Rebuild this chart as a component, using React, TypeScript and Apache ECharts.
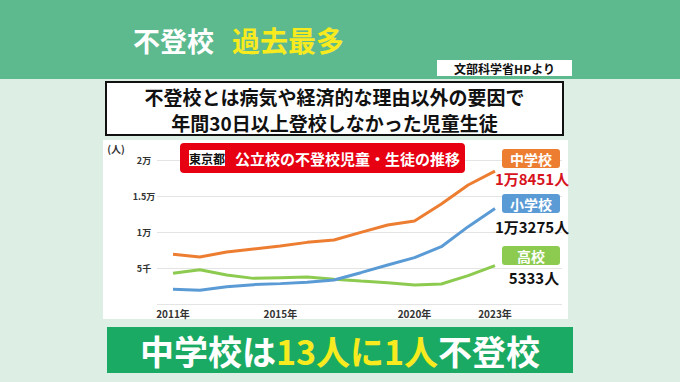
import React, { useEffect, useRef } from "react";
import * as echarts from "echarts";

const years = ["2011年","2012年","2013年","2014年","2015年","2016年","2017年","2018年","2019年","2020年","2021年","2022年","2023年"];
const shownYearIdx = [0, 4, 9, 12];
const juniorHigh = [6900, 6530, 7220, 7640, 8050, 8560, 8890, 9950, 10970, 11530, 13890, 16530, 18451];
const elementary = [2040, 1900, 2410, 2690, 2830, 3010, 3330, 4350, 5420, 6440, 7960, 10740, 13275];
const highSchool = [4260, 4770, 4030, 3560, 3660, 3750, 3430, 3190, 2960, 2640, 2780, 3940, 5333];
const yTickLabels: Record<number, string> = { 0: "", 5000: "5千", 10000: "1万", 15000: "1.5万", 20000: "2万" };

const FONT = '"Noto Sans CJK JP", "Noto Sans", sans-serif';
const ORANGE = "#EC7D31";
const BLUE = "#5B9BD5";
const GREEN = "#8DCB50";

export default function App() {
  const ref = useRef<HTMLDivElement>(null);
  useEffect(() => {
    document.body.style.margin = "0";
    const chart = echarts.init(ref.current!, null, { renderer: "svg" });
    const txt = (text: string, x: number, y: number, size: number, fill: string, align = "center", z = 10) => ({
      type: "text", x, y, z,
      style: { text, fill, fontSize: size, fontWeight: "bold", fontFamily: FONT, textAlign: align, textVerticalAlign: "middle" },
    });
    const rect = (x: number, y: number, w: number, h: number, fill: string, z = 5, r = 0, extra: any = {}) => ({
      type: "rect", z, shape: { x, y, width: w, height: h, r }, style: { fill, ...extra },
    });
    chart.setOption({
      animation: false,
      textStyle: { fontFamily: FONT },
      grid: [
        { left: 157, right: 118, top: 160, bottom: 78 },
        { left: 173, right: 185, top: 160, bottom: 78 },
      ],
      xAxis: [
        { type: "category", gridIndex: 0, show: false, data: years },
        {
          type: "category", gridIndex: 1, data: years, boundaryGap: false,
          axisLine: { show: false }, axisTick: { show: false },
          axisLabel: {
            interval: (i: number) => shownYearIdx.includes(i),
            fontSize: 10, fontWeight: "bold", color: "#333", margin: 4, fontFamily: FONT,
          },
        },
      ],
      yAxis: [
        {
          type: "value", gridIndex: 0, min: 0, max: 20000, interval: 5000,
          axisLine: { show: false }, axisTick: { show: false },
          splitLine: { lineStyle: { color: "#E4E4E4", width: 1 } },
          axisLabel: {
            formatter: (v: number) => yTickLabels[v] ?? "",
            align: "center", margin: 13, fontSize: 9, fontWeight: "bold", color: "#333", fontFamily: FONT,
          },
        },
        { type: "value", gridIndex: 1, min: 0, max: 20000, interval: 5000, show: false, splitLine: { show: false } },
      ],
      series: [
        { name: "中学校", type: "line", xAxisIndex: 1, yAxisIndex: 1, data: juniorHigh, showSymbol: false, lineStyle: { color: ORANGE, width: 3 }, z: 3 },
        { name: "小学校", type: "line", xAxisIndex: 1, yAxisIndex: 1, data: elementary, showSymbol: false, lineStyle: { color: BLUE, width: 3 }, z: 3 },
        { name: "高校", type: "line", xAxisIndex: 1, yAxisIndex: 1, data: highSchool, showSymbol: false, lineStyle: { color: GREEN, width: 3 }, z: 2 },
      ],
      graphic: [
        // backgrounds
        rect(0, 0, 680, 382, "#DDEEE4", -20),
        rect(0, 0, 680, 79, "#5CBA8E", -19),
        rect(103, 140, 465, 179, "#FFFFFF", -19),
        // title
        txt("不登校", 133, 40, 27, "#FFFFFF", "left"),
        txt("過去最多", 232, 40, 28, "#F7EA1E", "left"),
        // source
        rect(437, 60, 135, 16, "#FFFFFF", 5),
        txt("文部科学省HPより", 504.5, 68, 12, "#111111"),
        // subtitle box
        rect(106, 82, 457, 53, "#FFFFFF", 5, 0, { stroke: "#111111", lineWidth: 2 }),
        txt("不登校とは病気や経済的な理由以外の要因で", 334.5, 96, 19, "#111111"),
        txt("年間30日以上登校しなかった児童生徒", 334.5, 122, 19, "#111111"),
        // unit
        txt("(人)", 116, 148, 10, "#333333"),
        // red chart title
        rect(180, 143, 285, 30, "#E60012", 20, 4),
        rect(189, 150, 36, 16, "#FFFFFF", 21),
        txt("東京都", 207, 158.5, 12, "#111111", "center", 22),
        txt("公立校の不登校児童・生徒の推移", 235, 158.5, 15, "#FFFFFF", "left", 22),
        // right labels
        rect(502, 149, 58, 19, ORANGE, 20, 3),
        txt("中学校", 531, 158.5, 14, "#FFFFFF", "center", 22),
        txt("1万8451人", 532, 178, 15, "#D7141E", "center", 22),
        rect(502, 194, 58, 19, BLUE, 20, 3),
        txt("小学校", 531, 203.5, 14, "#FFFFFF", "center", 22),
        txt("1万3275人", 532, 226, 15, "#111111", "center", 22),
        rect(502, 246, 58, 19, GREEN, 20, 3),
        txt("高校", 531, 255.5, 14, "#FFFFFF", "center", 22),
        txt("5333人", 534, 277, 15, "#111111", "center", 22),
        // bottom banner
        rect(107, 327, 466, 46, "#1BAA63", 5),
        {
          type: "text", x: 340, y: 350, z: 10,
          style: {
            text: "{w|中学校は}{y|13人に1人}{w|不登校}",
            textAlign: "center", textVerticalAlign: "middle",
            rich: {
              w: { fill: "#FFFFFF", fontSize: 34, fontWeight: "bold", fontFamily: FONT },
              y: { fill: "#F7EA1E", fontSize: 34, fontWeight: "bold", fontFamily: FONT },
            },
          },
        },
      ],
    });
    return () => chart.dispose();
  }, []);
  return <div ref={ref} style={{ width: 680, height: 382 }} />;
}
